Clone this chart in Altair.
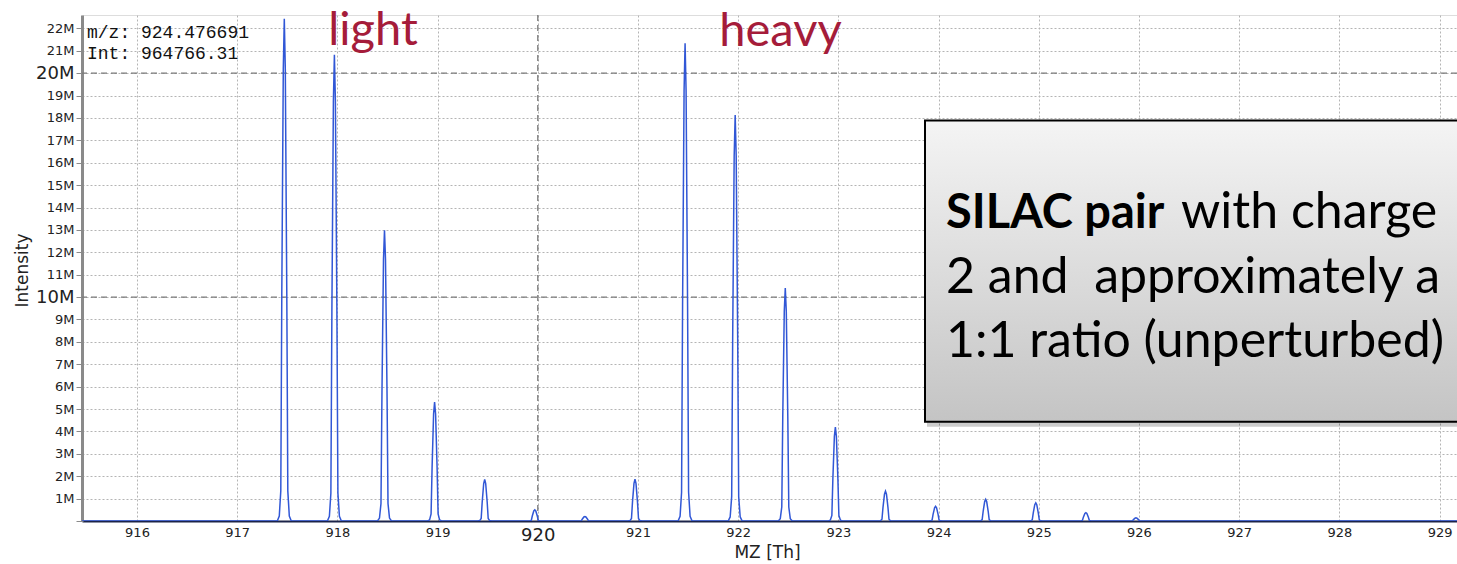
import altair as alt
import pandas as pd

# Isotope peaks of the SILAC pair: centroid m/z and apex intensity (millions of counts)
peak_mz = [917.47, 917.97, 918.47, 918.97, 919.47, 919.97, 920.47, 920.97,
           921.47, 921.97, 922.47, 922.97, 923.47, 923.97, 924.47, 924.97,
           925.47, 925.97]
peak_int_m = [22.43, 20.82, 12.99, 5.31, 1.86, 0.50, 0.20, 1.87,
              21.34, 18.13, 10.41, 4.20, 1.33, 0.65, 0.96476631, 0.81,
              0.37, 0.14]

# Profile of a single peak: m/z offset from the centroid, fraction of the apex
profile_offset = [-0.07, -0.05, -0.035, -0.025, -0.01, 0.0, 0.01, 0.025, 0.035, 0.05, 0.07]
profile_frac = [0.0, 0.01, 0.06, 0.45, 0.9, 1.0, 0.9, 0.45, 0.06, 0.01, 0.0]

mz_range = [915.451, 929.174]
int_max = 22.6e6
mz_ticks = list(range(916, 930))
int_ticks = [i * 1_000_000 for i in range(0, 23)]
major_mz = [920]
major_int = [10_000_000, 20_000_000]

# Continuous spectrum trace
rows = [{"mz": mz_range[0], "intensity": 0.0}]
for c, h in zip(peak_mz, peak_int_m):
    for off, fr in zip(profile_offset, profile_frac):
        rows.append({"mz": c + off, "intensity": h * 1e6 * fr})
rows.append({"mz": mz_range[1], "intensity": 0.0})
spectrum = pd.DataFrame(rows)

W, H = 1375, 506
FONT = "DejaVu Sans"

x_scale = alt.Scale(domain=mz_range, nice=False, zero=False)
y_scale = alt.Scale(domain=[0, int_max], nice=False)

x_axis = alt.Axis(
    title="MZ [Th]", values=mz_ticks, tickCount=40, format="d", ticks=False,
    labelFont=FONT, labelColor="#222", labelOverlap=False,
    labelFontSize={"condition": {"test": "datum.value == 920", "value": 18}, "value": 13},
    labelPadding=5, labelFlush=False,
    grid=True, gridColor="#b4b4b4", gridDash=[2, 2], gridWidth=1,
    domainColor="#1c2448", domainWidth=2,
    titleFont=FONT, titleFontSize=17, titleFontWeight="normal", titleColor="#222",
    titleX=685, titleY=36, titleAlign="center", titleBaseline="alphabetic",
)
y_axis = alt.Axis(
    title="Intensity", values=int_ticks, tickCount=40, labelOverlap=False, labelBound=False,
    labelExpr="datum.value == 0 ? '' : format(datum.value / 1000000, 'd') + 'M'",
    labelFont=FONT, labelColor="#222",
    labelFontSize={"condition": {"test": "datum.value == 10000000 || datum.value == 20000000",
                                 "value": 18}, "value": 13},
    labelPadding=2, tickSize=6, tickColor="#8a8a8a", tickWidth=1,
    grid=True, gridColor="#b4b4b4", gridDash=[2, 2], gridWidth=1,
    domainColor="#8a8a8a", domainWidth=3,
    titleFont=FONT, titleFontSize=17, titleFontWeight="normal", titleColor="#222",
    titleAngle=270, titleX=-60, titleY=255, titleAlign="center", titleBaseline="middle",
)

line = alt.Chart(spectrum).mark_line(color="#3157d6", strokeWidth=1.5, clip=True).encode(
    x=alt.X("mz:Q", scale=x_scale, axis=x_axis),
    y=alt.Y("intensity:Q", scale=y_scale, axis=y_axis),
)

major_h = alt.Chart(pd.DataFrame({"intensity": major_int})).mark_rule(
    color="#7a7a7a", strokeDash=[6, 4], strokeWidth=1.3
).encode(y=alt.Y("intensity:Q"))

major_v = alt.Chart(pd.DataFrame({"mz": major_mz})).mark_rule(
    color="#7a7a7a", strokeDash=[6, 4], strokeWidth=1.3
).encode(x=alt.X("mz:Q"))

# Cursor readout in the upper-left corner
readout = alt.Chart(pd.DataFrame({
    "t": ["m/z: 924.476691", "Int: 964766.31"],
    "yy": [23, 44],
})).mark_text(font="Liberation Mono", fontSize=18, align="left", baseline="alphabetic",
              color="#111").encode(x=alt.value(5), y=alt.Y("yy:Q", scale=None), text="t:N")

# Cluster labels
clusters = alt.Chart(pd.DataFrame({
    "t": ["light", "heavy"],
    "xx": [291, 698.5],
    "yy": [30, 31],
})).mark_text(font="Lato", fontSize=47, align="center", baseline="alphabetic",
              color="#a51c3a").encode(x=alt.X("xx:Q", scale=None), y=alt.Y("yy:Q", scale=None), text="t:N")

# Annotation box
box_x, box_y, box_y2 = 843, 105.6, 406.7
shadow = alt.Chart(pd.DataFrame({"d": [2, 4, 6]})).mark_rect(color="#000", opacity=0.07, clip=True).encode(
    x=alt.value(box_x + 2), x2=alt.value(W + 20),
    y=alt.value(box_y + 4), y2=alt.value(box_y2 + 5),
)
grad = alt.LinearGradient(
    gradient="linear",
    stops=[alt.GradientStop(color="#f4f4f4", offset=0),
           alt.GradientStop(color="#c4c4c4", offset=1)],
    x1=0, x2=0, y1=0, y2=1,
)
box = alt.Chart(pd.DataFrame({"k": [0]})).mark_rect(
    fill=grad, stroke="#000", strokeWidth=2, clip=True
).encode(
    x=alt.value(box_x), x2=alt.value(W + 20),
    y=alt.value(box_y), y2=alt.value(box_y2),
)

box_font = "Lato"
note_bold = alt.Chart(pd.DataFrame({"t": ["SILAC pair"]})).mark_text(
    font=box_font, fontSize=47, fontWeight="bold", align="left", baseline="alphabetic", color="#000"
).encode(x=alt.value(864), y=alt.value(213), text="t:N")
note_rest = alt.Chart(pd.DataFrame({
    "t": ["with charge", "2 and\u00a0 approximately a", "1:1 ratio (unperturbed)"],
    "xx": [1099, 864, 864],
    "yy": [213, 277.5, 341.5],
})).mark_text(
    font=box_font, fontSize=50, align="left", baseline="alphabetic", color="#000"
).encode(x=alt.X("xx:Q", scale=None), y=alt.Y("yy:Q", scale=None), text="t:N")

chart = alt.layer(
    major_h, major_v, line, readout, clusters, shadow, box, note_bold, note_rest
).properties(
    width=W, height=H,
    autosize=alt.AutoSizeParams(type="none"),
    padding={"left": 82, "top": 15, "right": 0, "bottom": 43},
).configure_view(stroke=None).configure(background="white")

chart.save("out.html", embed_options={"renderer": "svg", "actions": False})
